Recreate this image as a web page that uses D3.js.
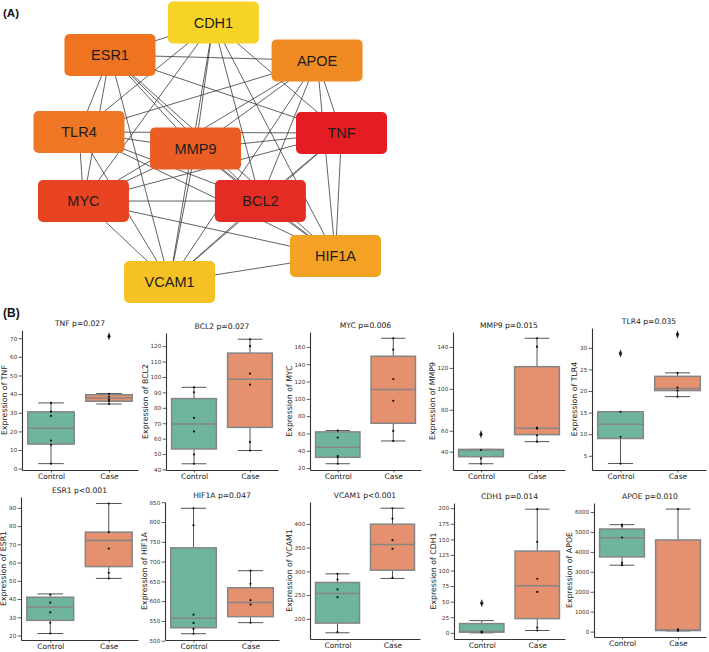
<!DOCTYPE html>
<html><head><meta charset="utf-8">
<script src="https://cdn.jsdelivr.net/npm/d3@7"></script>
<style>body{margin:0;background:#fff}svg{display:block}</style>
</head><body><svg id="c" width="709" height="652"></svg>
<script>
// ---------- Network data ----------
const nodeNames = ["CDH1","ESR1","APOE","TLR4","MMP9","TNF","MYC","BCL2","HIF1A","VCAM1"];
const nodeColors = ["#f5d327","#ee7422","#f08b24","#ef7624","#ea5e25","#e41c24","#e84422","#e42c24","#f4a224","#f5c125"];
const nodeLayoutX = [0.512,0.118,0.907,0,0.444,1,0.017,0.691,0.977,0.345];
const nodeLayoutY = [0,0.125,0.146,0.422,0.486,0.426,0.688,0.688,0.900,1];
const edges = [
 ["CDH1","ESR1"],["CDH1","TLR4"],["CDH1","MMP9"],["CDH1","TNF"],["CDH1","MYC"],["CDH1","BCL2"],["CDH1","HIF1A"],["CDH1","VCAM1"],
 ["ESR1","APOE"],["ESR1","TLR4"],["ESR1","MMP9"],["ESR1","TNF"],["ESR1","MYC"],["ESR1","BCL2"],["ESR1","HIF1A"],["ESR1","VCAM1"],
 ["APOE","TLR4"],["APOE","MMP9"],["APOE","TNF"],["APOE","MYC"],["APOE","BCL2"],["APOE","HIF1A"],["APOE","VCAM1"],
 ["TLR4","MMP9"],["TLR4","TNF"],["TLR4","MYC"],["TLR4","BCL2"],["TLR4","HIF1A"],["TLR4","VCAM1"],
 ["MMP9","TNF"],["MMP9","MYC"],["MMP9","BCL2"],["MMP9","HIF1A"],["MMP9","VCAM1"],
 ["TNF","MYC"],["TNF","BCL2"],["TNF","HIF1A"],["TNF","VCAM1"],
 ["MYC","BCL2"],["MYC","HIF1A"],["MYC","VCAM1"],
 ["BCL2","HIF1A"],["BCL2","VCAM1"],
 ["HIF1A","VCAM1"]
];

// ---------- Box plot data ----------
const genes = ["TNF","BCL2","MYC","MMP9","TLR4","ESR1","HIF1A","VCAM1","CDH1","APOE"];
const pLabels = ["p=0.027","p=0.027","p=0.006","p=0.015","p=0.035","p<0.001","p=0.047","p<0.001","p=0.014","p=0.010"];
const groups = ["Control","Case"];
// [lower whisker, Q1, median, Q3, upper whisker]
const controlStats = [
 [2.7,13.2,21.7,30.5,35.3],
 [43.7,53.3,69.5,86,93.3],
 [25,32.4,44,61.8,63.3],
 [28.5,35.2,41.6,42.2,42.2],
 [3.2,9,12.3,15.2,15.2],
 [21.1,28.3,35.7,41,42.8],
 [517.8,533,556.8,734.7,834.7],
 [170.5,190.9,253.3,276.5,294.7],
 [0,1,2,14.8,19.6],
 [3333,3750,4717,5150,5367]
];
const caseStats = [
 [34.7,36.2,37.9,39.7,40.3],
 [52.3,67.3,98.5,115.5,124.5],
 [51.3,71.8,110.9,149.2,170],
 [49.6,56.3,62.4,121.2,148.3],
 [18.7,20.1,20.6,23.4,24.2],
 [51.3,57.8,72.1,76.7,92.4],
 [545.8,561,596.6,634,677],
 [285,302.5,356.5,399.3,433],
 [3.7,22.8,75.7,131.2,198.4],
 [33,50,83,4600,6150]
];
const controlOutliers = [[],[],[],[56.6],[28.7],[],[],[],[47.6],[]];
const caseOutliers = [[71],[],[],[],[33.1],[],[],[],[],[]];
const controlPoints = [
 [2.7,12.8,15.1,28.3,30.6,35.3],
 [43.7,49.7,64.7,73.5,90.1,93.3],
 [25,32.5,33.8,55.2,63.3],
 [28.5,33.6,41.6,56.6],
 [3.2,9.4,15.2,28.7],
 [21.1,27,32.7,38,42.5],
 [517.8,530,545,566,792,834.7],
 [172,245.6,261.8,282.8,294.7],
 [0.5,1,2,47.6],
 [3333,3450,4720,5300,5367]
];
const casePoints = [
 [34.7,36.2,37.2,38.6,40.1,71],
 [52.3,57.8,95,102.2,120,124.5],
 [51.3,62.9,97.7,122.9,156.9,170],
 [49.6,55.7,62,63,140.3,148.3],
 [18.7,20.1,20.8,24.2,33.1],
 [51.3,54.4,67.7,76.7,92.4],
 [545.8,591.5,602.5,644,677],
 [286,347.4,365.6,411,433],
 [3.7,8.5,65.6,86.8,146,198.4],
 [40,60,117,6150]
];
const yTicks = [
 [0,10,20,30,40,50,60,70],
 [40,50,60,70,80,90,100,110,120],
 [20,40,60,80,100,120,140,160],
 [40,60,80,100,120,140],
 [5,10,15,20,25,30],
 [20,30,40,50,60,70,80,90],
 [500,550,600,650,700,750,800,850],
 [200,250,300,350,400],
 [0,25,50,75,100,125,150,175,200],
 [0,1000,2000,3000,4000,5000,6000]
];

// ---------- Layout ----------
const svg = d3.select("#c");
const FONT = "'DejaVu Sans', sans-serif";

// Network
const nx = d3.scaleLinear().domain([0,1]).range([79,341.5]);
const ny = d3.scaleLinear().domain([0,1]).range([22.5,282]);
const nodeW = 91, nodeH = 42;
const idx = n => nodeNames.indexOf(n);
const net = svg.append("g");
net.selectAll("line").data(edges).join("line")
  .attr("x1", d => nx(nodeLayoutX[idx(d[0])])).attr("y1", d => ny(nodeLayoutY[idx(d[0])]))
  .attr("x2", d => nx(nodeLayoutX[idx(d[1])])).attr("y2", d => ny(nodeLayoutY[idx(d[1])]))
  .attr("stroke", "#3a3a3a").attr("stroke-width", 0.8);
const ng = net.selectAll("g.node").data(nodeNames).join("g").attr("class","node")
  .attr("transform", (d,i) => `translate(${nx(nodeLayoutX[i])},${ny(nodeLayoutY[i])})`);
ng.append("rect").attr("x", -nodeW/2).attr("y", -nodeH/2).attr("width", nodeW).attr("height", nodeH)
  .attr("rx", 5).attr("fill", (d,i) => nodeColors[i]);
ng.append("text").text(d => d).attr("text-anchor","middle").attr("dy","0.36em")
  .attr("font-family","'Liberation Sans', Arial, sans-serif").attr("font-size",14.5).attr("fill","#1c1c1c");

svg.append("text").text("(A)").attr("x",3).attr("y",17).attr("font-family","'Liberation Sans', Arial, sans-serif")
  .attr("font-weight","bold").attr("font-size",11.5).attr("fill","#111");
svg.append("text").text("(B)").attr("x",3).attr("y",317).attr("font-family","'Liberation Sans', Arial, sans-serif")
  .attr("font-weight","bold").attr("font-size",12).attr("fill","#111");

// Box panels
const panelLeft = [22,166,310,453,592, 21,165,310,454,594];
const panelRight = [138,278,421,565,706, 138,279,420,565,706];
const panelTop = [330,333,332,332,328, 497,502,502,503,503];
const panelBottom = [470,470,470,470,470, 640,640,639,639,637];
const boxColors = ["#6fb59e","#e5906f"];
const edgeGray = "#858585";

genes.forEach((gene, i) => {
  const L = panelLeft[i], R = panelRight[i], T = panelTop[i], B = panelBottom[i];
  const all = [...controlStats[i], ...caseStats[i], ...controlOutliers[i], ...caseOutliers[i], ...controlPoints[i], ...casePoints[i]];
  const mn = d3.min(all), mx = d3.max(all), pad = (mx - mn) * 0.05;
  const y = d3.scaleLinear().domain([mn - pad, mx + pad]).range([B, T]);
  const x = d3.scalePoint().domain(groups).range([L, R]).padding(0.5);
  const step = (R - L) / 2, bw = step * 0.8, cw = bw * 0.55;
  const g = svg.append("g");
  const stats = [controlStats[i], caseStats[i]];
  const outs = [controlOutliers[i], caseOutliers[i]];
  const pts = [controlPoints[i], casePoints[i]];
  groups.forEach((grp, k) => {
    const s = stats[k], cx = x(grp);
    g.append("line").attr("x1",cx).attr("x2",cx).attr("y1",y(s[0])).attr("y2",y(s[1])).attr("stroke","#555").attr("stroke-width",1);
    g.append("line").attr("x1",cx).attr("x2",cx).attr("y1",y(s[3])).attr("y2",y(s[4])).attr("stroke","#555").attr("stroke-width",1);
    g.append("line").attr("x1",cx-cw/2).attr("x2",cx+cw/2).attr("y1",y(s[0])).attr("y2",y(s[0])).attr("stroke","#555").attr("stroke-width",1);
    g.append("line").attr("x1",cx-cw/2).attr("x2",cx+cw/2).attr("y1",y(s[4])).attr("y2",y(s[4])).attr("stroke","#555").attr("stroke-width",1);
    g.append("rect").attr("x",cx-bw/2).attr("width",bw).attr("y",y(s[3])).attr("height",Math.max(0.5,y(s[1])-y(s[3])))
      .attr("fill",boxColors[k]).attr("stroke",edgeGray).attr("stroke-width",1.5);
    g.append("line").attr("x1",cx-bw/2).attr("x2",cx+bw/2).attr("y1",y(s[2])).attr("y2",y(s[2])).attr("stroke",edgeGray).attr("stroke-width",1.5);
    g.selectAll(null).data(outs[k]).join("path")
      .attr("d", d3.symbol(d3.symbolDiamond, 14))
      .attr("transform", d => `translate(${cx},${y(d)}) scale(0.8,1.2)`)
      .attr("fill","#333");
    g.selectAll(null).data(pts[k]).join("circle")
      .attr("cx",cx).attr("cy",d => y(d)).attr("r",1.1).attr("fill","#111");
  });
  const ya = g.append("g").attr("transform",`translate(${L},0)`)
    .call(d3.axisLeft(y).tickValues(yTicks[i]).tickFormat(d3.format("d")).tickSize(3.3).tickSizeOuter(0).tickPadding(1.5));
  ya.selectAll("text").attr("font-family",FONT).attr("font-size",5.6).attr("fill","#333");
  ya.select(".domain").attr("stroke","#333").attr("stroke-width",1.1);
  ya.selectAll(".tick line").attr("stroke","#333").attr("stroke-width",0.8);
  const xa = g.append("g").attr("transform",`translate(0,${B})`)
    .call(d3.axisBottom(x).tickSize(2.5).tickSizeOuter(0).tickPadding(0.8));
  xa.selectAll("text").attr("font-family",FONT).attr("font-size",7.5).attr("fill","#222");
  xa.select(".domain").attr("stroke","#333").attr("stroke-width",1.1);
  xa.selectAll(".tick line").attr("stroke","#333").attr("stroke-width",0.8);
  let maxW = 0;
  ya.selectAll("text").each(function(){ maxW = Math.max(maxW, this.getBBox().width); });
  const lx = L - 3.3 - 1.5 - maxW - 2.5;
  g.append("text").text("Expression of " + gene)
    .attr("transform",`translate(${lx},${(T+B)/2}) rotate(-90)`)
    .attr("text-anchor","middle").attr("font-family",FONT).attr("font-size",7.8).attr("fill","#222");
  g.append("text").text(gene + " " + pLabels[i]).attr("x",(L+R)/2).attr("y",T-4)
    .attr("text-anchor","middle").attr("font-family",FONT).attr("font-size",7.6).attr("fill","#222");
});
</script></body></html>
